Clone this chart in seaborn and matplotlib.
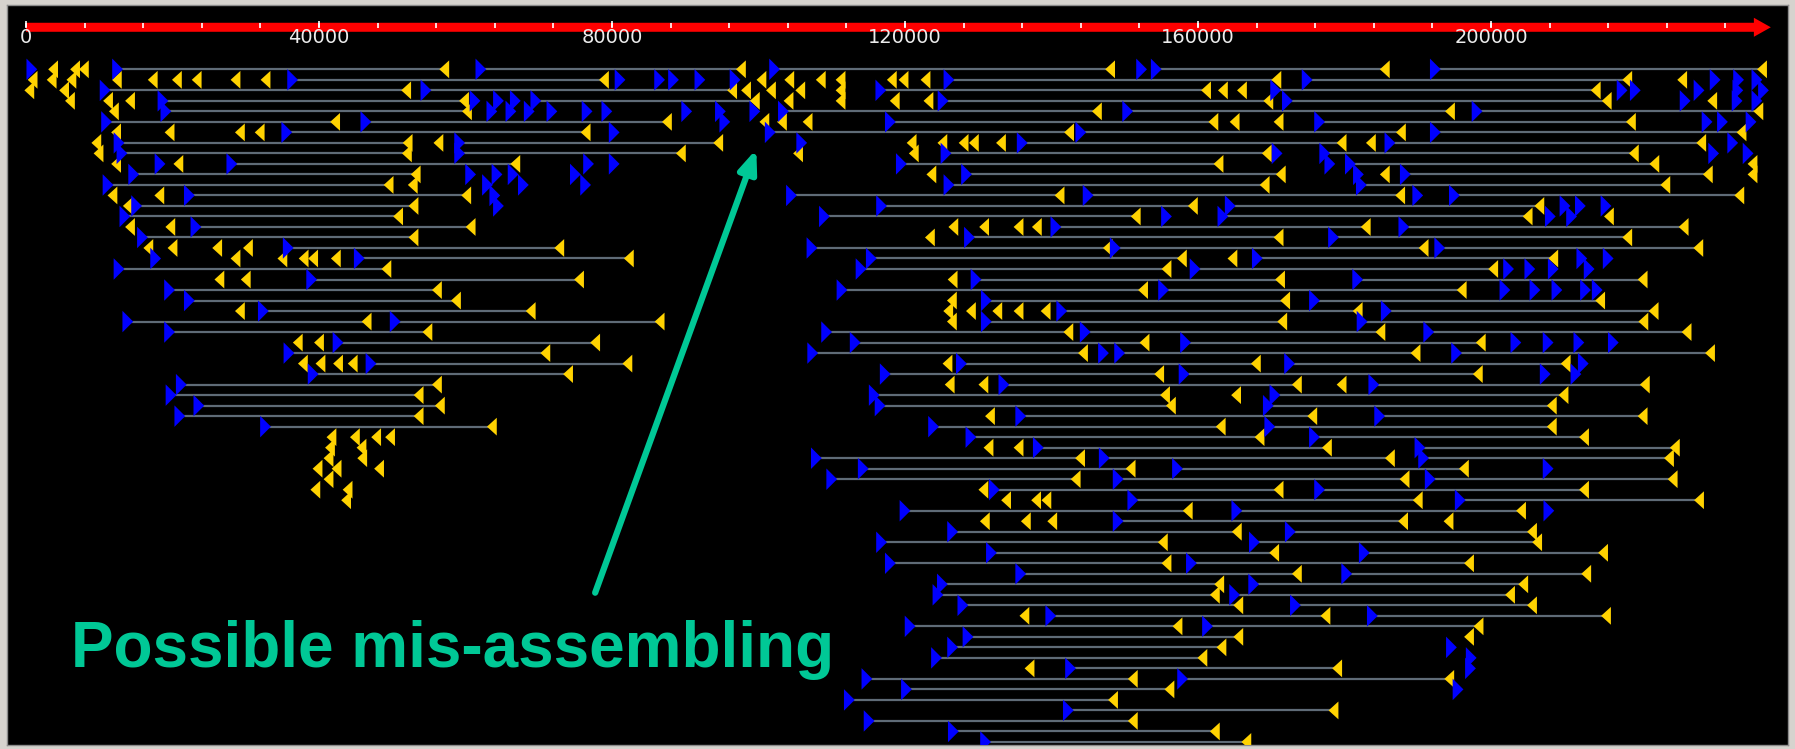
import numpy as np
import pandas as pd
import seaborn as sns
import matplotlib.pyplot as plt

# contig ruler (bp)
contig_len = 238200
tick_step = 8000
label_step = 40000

# mate pairs per row: (forward read, reverse read) positions in kb
pairs = {
    0: [(12.5, 57.1), (62.1, 97.6), (102.2, 148.0), (154.3, 185.5), (192.4, 237.0)],
    1: [(36.4, 78.9), (126.0, 170.7), (174.9, 218.6)],
    2: [(10.8, 51.9), (54.6, 96.4), (116.7, 161.1), (170.6, 214.3)],
    3: [(18.7, 59.8), (69.6, 99.5), (125.2, 169.6), (172.2, 215.8)],
    4: [(19.1, 60.2), (103.4, 146.2), (150.4, 194.4), (198.1, 236.5)],
    5: [(11.0, 42.2), (46.4, 87.5), (118.0, 162.1), (176.6, 219.1)],
    6: [(35.6, 76.4), (101.6, 142.4), (144.0, 187.7), (192.4, 234.2)],
    7: [(12.7, 52.1), (59.2, 94.5), (136.0, 179.6), (186.2, 228.7)],
    8: [(13.1, 52.0), (59.2, 89.4), (125.6, 169.4), (177.3, 219.5)],
    9: [(28.1, 66.8), (119.5, 162.8), (180.8, 222.3)],
    10: [(14.7, 53.2), (128.4, 171.3), (188.3, 229.6)],
    11: [(11.2, 49.5), (126.0, 169.1), (182.3, 223.8)],
    12: [(22.3, 60.1), (104.5, 141.1), (145.0, 187.6), (195.0, 233.9)],
    13: [(15.1, 52.9), (116.8, 159.3), (164.4, 206.6)],
    14: [(13.5, 50.8), (109.0, 151.5), (163.4, 205.0)],
    15: [(23.2, 60.7), (140.6, 182.9), (188.1, 226.3)],
    16: [(15.9, 52.9), (128.8, 171.0), (178.5, 218.6)],
    17: [(35.8, 72.8), (107.3, 147.7), (148.7, 190.8), (193.0, 228.3)],
    18: [(45.5, 82.3), (115.4, 157.8), (168.1, 208.5)],
    19: [(12.7, 49.2), (114.0, 155.7), (159.6, 200.3)],
    20: [(39.0, 75.5), (129.7, 171.2), (181.8, 220.7)],
    21: [(19.6, 56.1), (111.4, 152.5), (155.3, 196.0)],
    22: [(22.3, 58.7), (131.1, 171.9), (175.9, 214.9)],
    23: [(32.4, 68.9), (141.4, 181.8), (185.7, 222.2)],
    24: [(13.9, 46.5), (50.4, 86.5), (131.1, 171.5), (182.4, 220.8)],
    25: [(19.6, 54.8), (109.3, 142.3), (144.6, 184.9), (191.5, 226.7)],
    26: [(42.6, 77.7), (113.2, 152.7), (158.3, 198.6)],
    27: [(35.9, 70.9), (107.4, 144.3), (149.3, 189.7), (195.3, 229.9)],
    28: [(47.1, 82.1), (127.7, 167.9), (172.5, 210.2)],
    29: [(39.2, 74.0), (117.3, 154.7), (158.1, 198.2)],
    30: [(21.2, 56.1), (133.5, 173.5), (184.0, 221.0)],
    31: [(19.8, 53.6), (115.8, 155.5), (170.5, 209.9)],
    32: [(23.6, 56.5), (116.6, 156.3), (169.6, 208.3)],
    33: [(21.0, 53.6), (135.8, 175.6), (184.8, 220.7)],
    34: [(32.7, 63.6), (123.9, 163.1), (169.8, 208.3)],
    35: [(129.0, 168.4), (175.9, 212.7)],
    36: [(138.2, 177.6), (190.3, 225.1)],
    37: [(107.9, 143.9), (147.2, 186.2), (190.8, 224.3)],
    38: [(114.3, 150.8), (157.2, 196.3)],
    39: [(110.0, 143.3), (149.1, 188.2), (191.7, 224.8)],
    40: [(132.2, 171.0), (176.6, 212.7)],
    41: [(151.1, 190.0), (195.8, 228.4)],
    42: [(120.0, 158.6), (165.3, 204.1)],
    43: [(149.1, 188.0)],
    44: [(126.5, 165.3), (172.6, 205.6)],
    45: [(116.8, 155.2), (167.7, 206.3)],
    46: [(131.8, 170.4), (182.7, 215.3)],
    47: [(118.0, 155.7), (159.1, 197.0)],
    48: [(135.8, 173.5), (180.3, 213.0)],
    49: [(125.1, 162.9), (167.6, 204.4)],
    50: [(124.5, 162.3), (165.0, 202.6)],
    51: [(127.9, 165.5), (173.3, 205.6)],
    52: [(139.9, 177.4), (183.8, 215.7)],
    53: [(120.7, 157.2), (161.3, 198.3)],
    54: [(128.6, 165.5)],
    55: [(126.5, 163.2)],
    56: [(124.3, 160.6)],
    57: [(142.6, 179.0)],
    58: [(114.8, 151.1), (157.9, 194.3)],
    59: [(120.2, 156.1)],
    60: [(112.4, 148.4)],
    61: [(142.3, 178.5)],
    62: [(115.1, 151.1)],
    63: [(126.6, 162.3)],
    64: [(131.0, 166.6)],
}

# forward reads whose mate is missing (blue), kb
lone_fwd = {
    0: [0.8, 152.3],
    1: [81.1, 86.5, 88.4, 92.0, 96.8, 230.6, 233.8, 236.3],
    2: [217.9, 219.7, 228.4, 233.7, 237.2],
    3: [61.3, 64.5, 66.8, 226.5, 233.6, 236.3],
    4: [63.6, 66.2, 68.7, 71.8, 76.6, 79.3, 90.2, 94.8, 99.5],
    5: [95.4, 229.5, 231.6, 235.5],
    6: [80.3],
    7: [105.9, 233.0],
    8: [170.8, 230.4, 235.1],
    9: [18.3, 76.8, 80.3, 178.0],
    10: [60.7, 64.3, 66.5, 75.0, 181.9],
    11: [63.0, 67.9, 76.4],
    12: [64.0, 190.0],
    13: [64.5, 210.1, 212.2, 215.7],
    14: [155.7, 208.1, 211.0],
    18: [17.7, 212.4, 216.0],
    19: [202.4, 205.3, 208.5, 213.4],
    21: [201.9, 206.0, 209.0, 212.9, 214.5],
    26: [203.4, 207.8, 212.0, 216.7],
    27: [147.1],
    28: [212.6],
    29: [207.4, 211.6],
    38: [207.8],
    42: [207.9],
    55: [194.6],
    56: [197.3],
    57: [197.2],
    59: [195.5],
}

# reverse reads whose mate is missing (yellow), kb
lone_rev = {
    0: [3.7, 6.7, 7.9],
    1: [0.9, 3.5, 6.2, 12.4, 17.3, 20.6, 23.3, 28.6, 32.7, 100.4, 104.2,
        108.5, 111.2, 118.2, 119.8, 122.8, 226.1],
    2: [0.45, 5.2, 98.3, 101.7, 105.7, 111.2, 163.4, 166.0],
    3: [6.0, 11.2, 14.2, 104.1, 111.2, 118.6, 123.2, 230.2],
    4: [12.0],
    5: [100.8, 103.2, 106.7, 165.0, 171.0],
    6: [12.3, 19.6, 29.2, 31.9],
    7: [9.6, 56.3, 120.9, 125.1, 128.0, 129.4, 133.1, 183.6],
    8: [9.9, 105.4, 121.2],
    9: [12.3, 20.8, 235.7],
    10: [123.6, 185.5, 235.7],
    11: [52.8],
    12: [11.8, 18.2],
    13: [13.9],
    14: [216.1],
    15: [14.2, 19.7, 126.6, 130.8, 135.5, 138.0],
    16: [123.4],
    17: [16.7, 20.0, 26.1, 30.3],
    18: [28.6, 35.0, 37.9, 39.2, 42.3, 164.7],
    20: [26.4, 30.0, 126.5],
    22: [126.4],
    23: [29.2, 125.9, 129.0, 132.6, 135.5, 139.2],
    24: [126.4],
    26: [37.1, 40.0],
    28: [37.8, 40.2, 42.6, 44.6, 125.8],
    30: [126.1, 130.7, 179.6],
    31: [165.2],
    33: [131.6],
    35: [41.7, 44.9, 47.8, 49.7],
    36: [41.5, 45.8, 131.4, 135.5],
    37: [41.3, 45.9],
    38: [39.8, 42.4, 48.2],
    39: [41.3],
    40: [39.5, 43.9, 130.7],
    41: [43.7, 133.8, 137.9, 139.3],
    43: [130.9, 136.5, 140.1, 194.2],
    52: [136.3],
    54: [197.0],
    57: [137.0],
}

note = "Possible mis-assembling"

# tables for plotting (bp)
pair_df = pd.DataFrame(
    [(r, a * 1000, b * 1000) for r, lst in pairs.items() for a, b in lst],
    columns=["row", "start", "end"],
)
fwd_df = pd.concat([
    pair_df[["row", "start"]].rename(columns={"start": "pos"}),
    pd.DataFrame([(r, p * 1000) for r, lst in lone_fwd.items() for p in lst], columns=["row", "pos"]),
])
rev_df = pd.concat([
    pair_df[["row", "end"]].rename(columns={"end": "pos"}),
    pd.DataFrame([(r, p * 1000) for r, lst in lone_rev.items() for p in lst], columns=["row", "pos"]),
])

sns.set_theme(style="dark")
plt.rcParams["font.family"] = ["DejaVu Sans"]

fig = plt.figure(figsize=(17.95, 7.49), dpi=100, facecolor="#d6d3ce")
ax = fig.add_axes([7 / 1795, 4 / 749, 1781 / 1795, 740 / 749])
ax.set_facecolor("black")
ax.grid(False)
ax.set_xlim(-2594, 240546)
ax.set_ylim(64.29, -6.12)
for sp in ax.spines.values():
    sp.set_color("#8c8c8c")
    sp.set_linewidth(1)

# ruler arrow
ax.annotate("", xy=(contig_len, -4.0), xytext=(0, -4.0),
            arrowprops=dict(arrowstyle="simple,head_length=0.61,head_width=0.685,tail_width=0.325",
                            mutation_scale=20, fc="red", ec="none", shrinkA=0, shrinkB=0))
minor = np.arange(0, contig_len - 4000, tick_step)
major = np.arange(0, contig_len - 30000, label_step)
ax.vlines(minor, -4.4, -3.95, color="white", lw=1.2, zorder=4)
ax.vlines(major, -4.6, -4.0, color="white", lw=1.2, zorder=4)
for m in major:
    ax.text(m, -3.0, f"{m}", color="#ececec", ha="center", va="center", fontsize=14, zorder=5)

# read pairs
ax.hlines(pair_df["row"], pair_df["start"], pair_df["end"], color="#5f6b77", lw=1.6, zorder=1)

right_tri = [(-0.5, -1), (0.5, 0), (-0.5, 1), (-0.5, -1)]
left_tri = [(0.55, -1), (-0.55, 0), (0.55, 1), (0.55, -1)]
sns.scatterplot(data=rev_df, x="pos", y="row", marker=left_tri, color="#ffd200",
                s=165, linewidth=0, edgecolor="none", ax=ax, zorder=3)
sns.scatterplot(data=fwd_df, x="pos", y="row", marker=right_tri, color="#0000ff",
                s=240, linewidth=0, edgecolor="none", ax=ax, zorder=3)
ax.set_xticks([])
ax.set_yticks([])
ax.set_xlabel("")
ax.set_ylabel("")

# annotation
teal = "#00c896"
ax.annotate("", xy=(99700, 7.6), xytext=(77700, 49.8),
            arrowprops=dict(arrowstyle="-|>,head_length=0.45,head_width=0.18", lw=4.5,
                            color=teal, mutation_scale=30, shrinkA=0, shrinkB=0))
ax.text(6100, 56.9, note, color=teal, fontsize=46, fontweight="bold",
        family="Liberation Sans", ha="left", va="baseline")

fig.savefig("out.png", dpi=100, facecolor=fig.get_facecolor())
